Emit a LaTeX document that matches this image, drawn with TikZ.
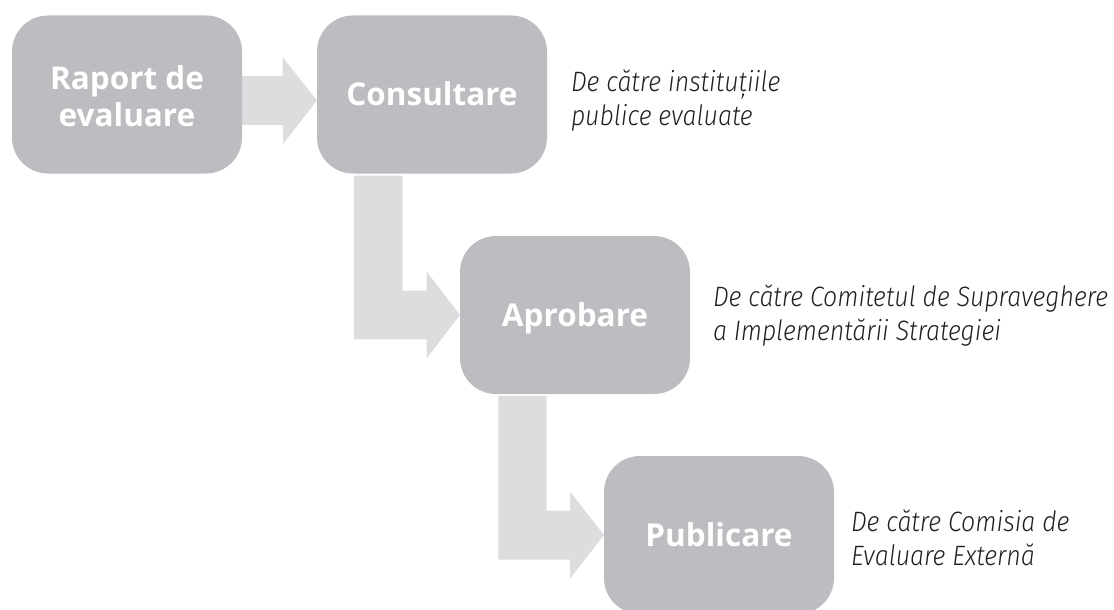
\documentclass[tikz,border=0pt]{standalone}
\usepackage{fontspec}
\setmainfont{Open Sans}
\newfontfamily\labelfont{Open Sans Bold}
\newfontfamily\notefont{Fira Sans Light Italic}[FakeStretch=0.89]
\usetikzlibrary{calc,backgrounds}
\definecolor{boxgray}{HTML}{BCBDC0}
\definecolor{arrowgray}{HTML}{DCDDDF}
\definecolor{notegray}{HTML}{231F20}
\begin{document}
\begin{tikzpicture}[x=1pt,y=-1pt,
  stepbox/.style={rectangle, rounded corners=36pt, fill=boxgray,
    minimum width=230pt, minimum height=158pt, inner sep=0pt, outer sep=0pt,
    text=white, align=center, text height=22.5pt, text depth=0pt,
    font=\labelfont\fontsize{31.5}{36.7}\selectfont},
  note/.style={anchor=base west, inner sep=0pt, outer sep=0pt, align=left,
    text=notegray, font=\notefont\fontsize{28}{33.3}\selectfont},
  flow/.style={fill=arrowgray}]
\useasboundingbox (0,0) rectangle (1114,610);
\clip (0,0) rectangle (1114,610);
\node[stepbox, text height=63pt, text depth=0pt] (b1) at (127,94.5) {Raport de\\evaluare};
\node[stepbox] (b2) at (432,94.5) {Consultare};
\node[stepbox] (b3) at (575,315) {Aprobare};
\node[stepbox] (b4) at (719,535) {Publicare};
\node[note] (n2) at ($(b2.east)+(24,30.5)$) {De către instituțiile\\publice evaluate};
\node[note] (n3) at ($(b3.east)+(23,25)$) {De către Comitetul de Supraveghere\\a Implementării Strategiei};
\node[note] (n4) at ($(b4.east)+(17,30)$) {De către Comisia de\\Evaluare Externă};
\begin{scope}[on background layer]
% arrow 1
\fill[flow] ($(b1.east)+(0,-18.5)$) coordinate (s1) -- ++(40.7,0) -- ++(0,-18.7)
  -- ($(b2.west)+(0,6)$) coordinate (t1) -- ++(-34,43.5) -- ++(0,-19) -| (s1) -- cycle;
% arrow 2
\fill[flow] ($(b2.south west)+(37,2)$) coordinate (s2) -- ++(48.7,0)
  |- ($(b3.west)+(-33.3,-24.3)$) -- ++(0,-19) -- (b3.west) -- ++(-33.3,43.3)
  -- ++(0,-19) -| (s2) -- cycle;
% arrow 3
\fill[flow] ($(b3.south west)+(38.3,2)$) coordinate (s3) -- ++(48.4,0)
  |- ($(b4.west)+(-34,-24.5)$) -- ++(0,-19) -- (b4.west) -- ++(-34,43.5)
  -- ++(0,-19) -| (s3) -- cycle;
\end{scope}
\end{tikzpicture}
\end{document}
